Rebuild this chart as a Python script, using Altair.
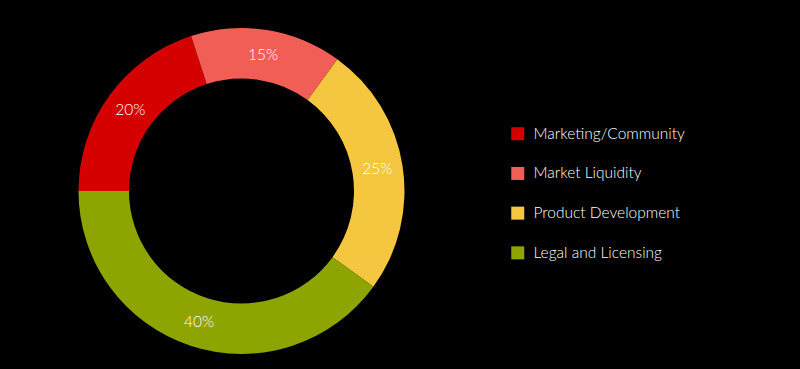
import altair as alt
import pandas as pd
import math

categories = ["Marketing/Community", "Market Liquidity", "Product Development", "Legal and Licensing"]
values = [20, 15, 25, 40]
labels = ["20%", "15%", "25%", "40%"]
colors = ["#d50000", "#f15e55", "#f5c640", "#8ea400"]

df = pd.DataFrame({
    "category": categories,
    "value": values,
    "label": labels,
    "order": list(range(len(categories))),
})

start = 3 * math.pi / 2
theta_scale = alt.Scale(domain=[0, 100], range=[start, start + 2 * math.pi])

base = alt.Chart(df).encode(
    theta=alt.Theta("value:Q", stack=True, scale=theta_scale),
    order=alt.Order("order:Q"),
)

arcs = base.mark_arc(x=241.5, y=191, outerRadius=163, innerRadius=112.5).encode(
    color=alt.Color(
        "category:N",
        scale=alt.Scale(domain=categories, range=colors),
        sort=categories,
        legend=alt.Legend(
            title=None,
            orient="none",
            legendX=510,
            legendY=126,
            symbolType="square",
            symbolSize=169,
            symbolStrokeWidth=0,
            labelFont="Lato",
            labelFontSize=15.5,
            labelFontWeight=300,
            labelColor="#ffffff",
            labelOffset=8,
            rowPadding=22.7,
        ),
    )
)

text = base.mark_text(
    x=241.5, y=191, radius=137.5, font="Lato", fontSize=15.5, fontWeight=300, color="#ffffff"
).encode(text="label:N")

chart = (
    alt.layer(arcs, text)
    .properties(width=800, height=369, autosize=alt.AutoSizeParams(type="none"), padding=0, background="#000000")
    .configure_view(stroke=None)
)

chart.save("out.html", embed_options={"renderer": "svg", "actions": False})
